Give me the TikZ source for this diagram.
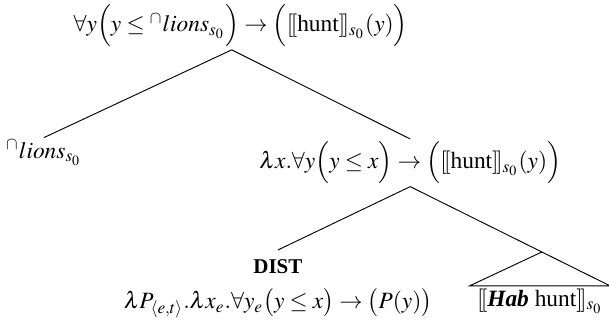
\documentclass[tikz,border=0pt]{standalone}
\usepackage{mathptmx}
\usepackage[no-math]{fontspec}
\setmainfont{Liberation Serif}
\usepackage{amsmath}
\usetikzlibrary{positioning}
\newcommand{\den}[1]{[\![#1]\!]}
\tikzset{sem/.style={inner sep=1pt}}

\begin{document}
\begin{tikzpicture}
    \useasboundingbox (0,0) rectangle (9.16,4.84);

    % Root and first split
    \node[sem, anchor=south] (root) at (3.62,4.09) {$\forall y\Bigl(y\leq {}^{\cap}lions_{s_0}\Bigr)\rightarrow\Bigl(\den{\text{hunt}}_{s_0}(y)\Bigr)$};
    \node[sem, anchor=north] (lions) at (0.66,2.77) {${}^{\cap}lions_{s_0}$};
    \node[sem, anchor=north] (mid) at (6.17,2.75) {$\lambda x.\forall y\Bigl(y\leq x\Bigr)\rightarrow\Bigl(\den{\text{hunt}}_{s_0}(y)\Bigr)$};

    % Lower split
    \node[inner sep=4pt, anchor=north, align=center] (dist) at (4.18,1.08) {{\small\textbf{DIST}}\\[3pt] $\lambda P_{\langle e,t\rangle}.\lambda x_e.\forall y_e\bigl(y\leq x\bigr)\rightarrow\bigl(P(y)\bigr)$};
    \node[inner ysep=1pt, inner xsep=3pt, anchor=north] (hab) at (8.12,0.54) {$\den{\text{\textbf{\textit{Hab}} hunt}}_{s_0}$};
    \coordinate (habtop) at (8.15,1.05);

    % Branches
    \draw ([xshift=-0.135cm]root.south) -- (lions.north);
    \draw ([xshift=-0.135cm]root.south) -- (mid.north);
    \draw (mid.south) -- (dist.north);
    \draw (mid.south) -- (habtop);
    \draw (habtop) -- (hab.north west) -- (hab.north east) -- cycle;
\end{tikzpicture}
\end{document}
